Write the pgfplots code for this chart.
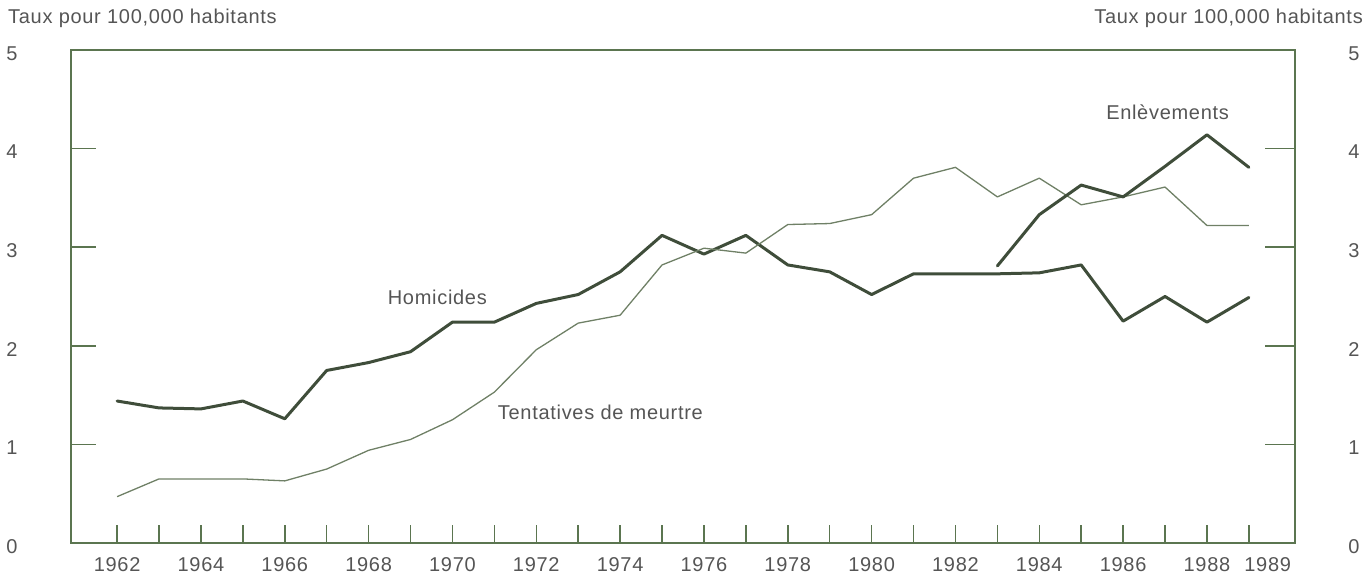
\documentclass[border=0pt]{standalone}
\usepackage{pgfplots}
\pgfplotsset{compat=1.18}
\usepackage{fontspec}
\setmainfont{Liberation Sans}[LetterSpace=3.5]
\definecolor{axc}{HTML}{5B7550}
\definecolor{linec}{HTML}{3F4D3A}
\definecolor{thinc}{HTML}{6F8066}
\definecolor{txt}{HTML}{555555}
\newcommand{\lbl}{\fontsize{20}{23}\selectfont}
\pgfplotsset{base/.style={
  at={(0pt,0pt)}, anchor=south west,
  scale only axis, width=1224pt, height=493pt,
  xmin=1960.9, xmax=1990.1, ymin=0, ymax=5,
  axis line style={axc, line width=1.6pt},
  tick align=inside,
  tick style={axc, line width=1.5pt},
  every tick label/.append style={font=\lbl, text=txt},
}}
\begin{document}
\begin{tikzpicture}
\useasboundingbox (-71pt,-33pt) rectangle (1295pt,543pt);
\begin{axis}[base,
  xtick={1962,1963,...,1989},
  xticklabels={1962,,1964,,1966,,1968,,1970,,1972,,1974,,1976,,1978,,1980,,1982,,1984,,1986,,1988,},
  extra x ticks={1989.45},
  extra x tick labels={1989},
  extra x tick style={major tick length=0pt},
  xtick pos=bottom,
  major tick length=18pt,
  xticklabel style={anchor=center, yshift=-22pt},
  ytick=\empty,
  clip=false,
]
% Homicides
\addplot[linec, line width=3pt, line join=round, line cap=round] coordinates {
(1962,1.44) (1963,1.37) (1964,1.36) (1965,1.44) (1966,1.26) (1967,1.75)
(1968,1.83) (1969,1.94) (1970,2.24) (1971,2.24) (1972,2.43) (1973,2.52)
(1974,2.75) (1975,3.12) (1976,2.93) (1977,3.12) (1978,2.82) (1979,2.75)
(1980,2.52) (1981,2.73) (1982,2.73) (1983,2.73) (1984,2.74) (1985,2.82)
(1986,2.25) (1987,2.50) (1988,2.24) (1989,2.49)};
% Tentatives de meurtre
\addplot[thinc, line width=1.3pt, line join=round] coordinates {
(1962,0.47) (1963,0.65) (1964,0.65) (1965,0.65) (1966,0.63) (1967,0.75)
(1968,0.94) (1969,1.05) (1970,1.25) (1971,1.53) (1972,1.96) (1973,2.23)
(1974,2.31) (1975,2.82) (1976,2.99) (1977,2.94) (1978,3.23) (1979,3.24)
(1980,3.33) (1981,3.70) (1982,3.81) (1983,3.51) (1984,3.70) (1985,3.43)
(1986,3.51) (1987,3.61) (1988,3.22) (1989,3.22)};
% Enlevements
\addplot[linec, line width=3pt, line join=round, line cap=round] coordinates {
(1983,2.81) (1984,3.33) (1985,3.63) (1986,3.51) (1987,3.82) (1988,4.14) (1989,3.81)};
\node[text=txt, font=\lbl] at (axis cs:1969.64,2.49) {Homicides};
\node[text=txt, font=\lbl] at (axis cs:1973.53,1.32) {Tentatives de meurtre};
\node[text=txt, font=\lbl] at (axis cs:1987.06,4.37) {Enlèvements};
\end{axis}
\begin{axis}[base,
  hide x axis,
  axis y line*=left,
  ytick={0,1,2,3,4,5},
  yticklabels={0,1,2,3,4,5},
  major tick length=25pt,
  yticklabel style={anchor=center, xshift=-59pt, yshift=-3.5pt},
]
\end{axis}
\begin{axis}[base,
  hide x axis,
  axis y line*=right,
  ytick={0,1,2,3,4,5},
  yticklabels={0,1,2,3,4,5},
  major tick length=30pt,
  yticklabel style={anchor=center, xshift=59pt, yshift=-3.5pt},
]
\end{axis}
\node[anchor=west, text=txt, font=\lbl, inner sep=0pt] at (-63pt,525pt) {Taux pour 100,000 habitants};
\node[anchor=east, text=txt, font=\lbl, inner sep=0pt] at (1292pt,525pt) {Taux pour 100,000 habitants};
\end{tikzpicture}
\end{document}
